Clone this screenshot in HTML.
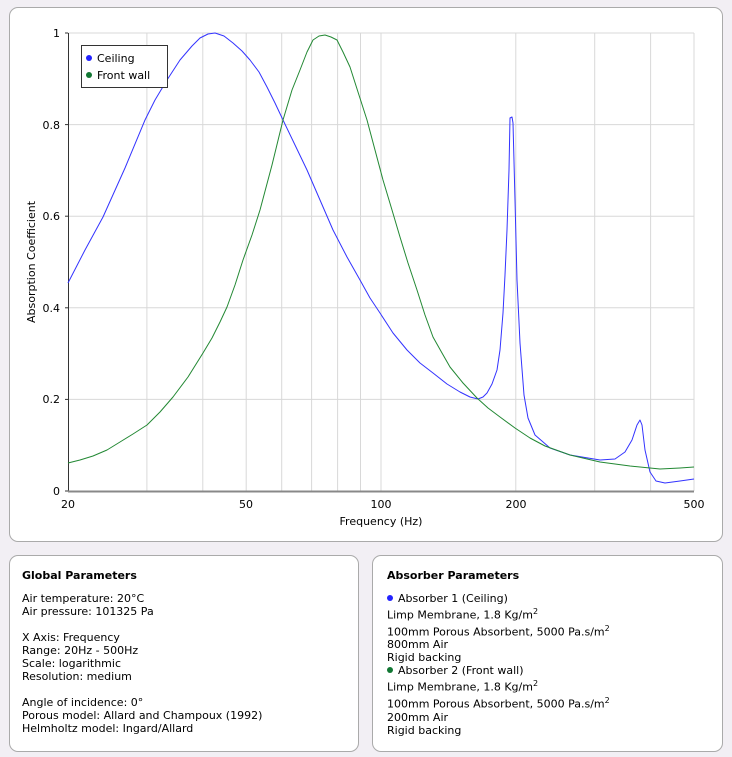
<!DOCTYPE html>
<html><head><style>
body{margin:0;background:#f2eff4;width:732px;height:757px;position:relative;font-family:"DejaVu Sans",Verdana,sans-serif;font-size:11px;color:#000;overflow:hidden}
.p{position:absolute;background:#fff;border:1px solid #aaa;border-radius:9px;box-sizing:border-box}
.t{font-weight:bold;margin-bottom:10px}
.d{display:inline-block;width:6px;height:6px;border-radius:50%;margin:0 5px 1px 0}
sup{font-size:8px}
</style></head><body>
<div class="p" style="left:9px;top:7px;width:714px;height:535px"></div>
<svg style="position:absolute;left:0;top:0" width="732" height="545">
<g stroke="#d8d8d8" stroke-width="1">
<line x1="146.9" y1="33" x2="146.9" y2="491"/><line x1="202.8" y1="33" x2="202.8" y2="491"/><line x1="246.2" y1="33" x2="246.2" y2="491"/><line x1="281.7" y1="33" x2="281.7" y2="491"/><line x1="311.6" y1="33" x2="311.6" y2="491"/><line x1="337.6" y1="33" x2="337.6" y2="491"/><line x1="360.5" y1="33" x2="360.5" y2="491"/><line x1="381" y1="33" x2="381" y2="491"/><line x1="515.8" y1="33" x2="515.8" y2="491"/><line x1="594.7" y1="33" x2="594.7" y2="491"/><line x1="650.6" y1="33" x2="650.6" y2="491"/><line x1="694" y1="33" x2="694" y2="491"/>
<line x1="68" y1="33" x2="694" y2="33"/><line x1="68" y1="124.6" x2="694" y2="124.6"/><line x1="68" y1="216.2" x2="694" y2="216.2"/><line x1="68" y1="307.8" x2="694" y2="307.8"/><line x1="68" y1="399.4" x2="694" y2="399.4"/>
</g>
<g stroke="#333" stroke-width="1">
<line x1="68.5" y1="33" x2="68.5" y2="492"/><line x1="68" y1="491.5" x2="694" y2="491.5" stroke="#888" stroke-width="2"/>
<line x1="65" y1="33" x2="68" y2="33"/><line x1="65" y1="124.6" x2="68" y2="124.6"/><line x1="65" y1="216.2" x2="68" y2="216.2"/><line x1="65" y1="307.8" x2="68" y2="307.8"/><line x1="65" y1="399.4" x2="68" y2="399.4"/><line x1="65" y1="491" x2="68" y2="491"/>
</g>
<g font-size="11" text-anchor="end" font-family="DejaVu Sans,Verdana,sans-serif">
<text x="60" y="37">1</text><text x="60" y="129">0.8</text><text x="60" y="220">0.6</text><text x="60" y="312">0.4</text><text x="60" y="403">0.2</text><text x="60" y="495">0</text>
</g>
<g font-size="11" text-anchor="middle" font-family="DejaVu Sans,Verdana,sans-serif">
<text x="68" y="508">20</text><text x="246" y="508">50</text><text x="381" y="508">100</text><text x="516" y="508">200</text><text x="694" y="508">500</text>
<text x="381" y="525">Frequency (Hz)</text>
<text transform="translate(35,262) rotate(-90)">Absorption Coefficient</text>
</g>
<polyline fill="none" stroke="#3333ff" stroke-width="1" stroke-linejoin="round" points="68,283 85,250 103,217 125,168 145,120 155,100 167,80 180,60 192,46 200,38 208,34 215,33 224,36 233,43 242,51 250,60 259,72 267,87 275,103 283,120 295,145 307,170 320,200 333,230 347,257 360,280 370,298 380,313 393,333 407,350 420,363 433,373 447,384 460,392 470,397 478,399 483,397 487,393 492,384 497,370 500,350 503,313 505,275 507,230 509,170 510,118 512,117 513,123 515,200 517,280 520,343 524,395 528,418 535,435 550,448 570,455 600,460 615,459 625,452 632,440 637,425 640,420 642,425 645,450 650,472 656,481 665,483 680,481 694,479"/>
<polyline fill="none" stroke="#228833" stroke-width="1" stroke-linejoin="round" points="68,463 80,460 93,456 107,450 120,442 133,434 147,425 160,412 173,397 188,377 203,353 212,338 220,322 227,307 235,285 243,260 252,235 260,210 272,165 283,120 292,90 300,70 307,52 313,40 319,36 325,35 331,37 337,40 343,52 350,67 358,92 367,120 375,150 383,180 392,210 400,237 408,263 417,290 425,315 433,337 442,353 450,367 463,383 477,398 488,408 500,417 515,428 530,438 545,446 570,455 600,462 630,466 660,469 680,468 694,467"/>
<rect x="81.5" y="45.5" width="86" height="42" fill="#fff" stroke="#333"/>
<circle cx="89" cy="58" r="3" fill="#2222ff"/><circle cx="89" cy="75" r="3" fill="#117733"/>
<text x="97" y="62" font-size="11" font-family="DejaVu Sans,Verdana,sans-serif">Ceiling</text>
<text x="97" y="79" font-size="11" font-family="DejaVu Sans,Verdana,sans-serif">Front wall</text>
</svg>
<div class="p" style="left:9px;top:555px;width:350px;height:197px;padding:13px 12px;line-height:13px">
<div class="t">Global Parameters</div>
Air temperature: 20°C<br>Air pressure: 101325 Pa<br><br>X Axis: Frequency<br>Range: 20Hz - 500Hz<br>Scale: logarithmic<br>Resolution: medium<br><br>Angle of incidence: 0°<br>Porous model: Allard and Champoux (1992)<br>Helmholtz model: Ingard/Allard
</div>
<div class="p" style="left:372px;top:555px;width:351px;height:197px;padding:13px 14px;line-height:13px">
<div class="t">Absorber Parameters</div>
<span class="d" style="background:#2222ff"></span>Absorber 1 (Ceiling)<br>Limp Membrane, 1.8 Kg/m<sup>2</sup><br>100mm Porous Absorbent, 5000 Pa.s/m<sup>2</sup><br>800mm Air<br>Rigid backing<br>
<span class="d" style="background:#117733"></span>Absorber 2 (Front wall)<br>Limp Membrane, 1.8 Kg/m<sup>2</sup><br>100mm Porous Absorbent, 5000 Pa.s/m<sup>2</sup><br>200mm Air<br>Rigid backing
</div>
</body></html>
